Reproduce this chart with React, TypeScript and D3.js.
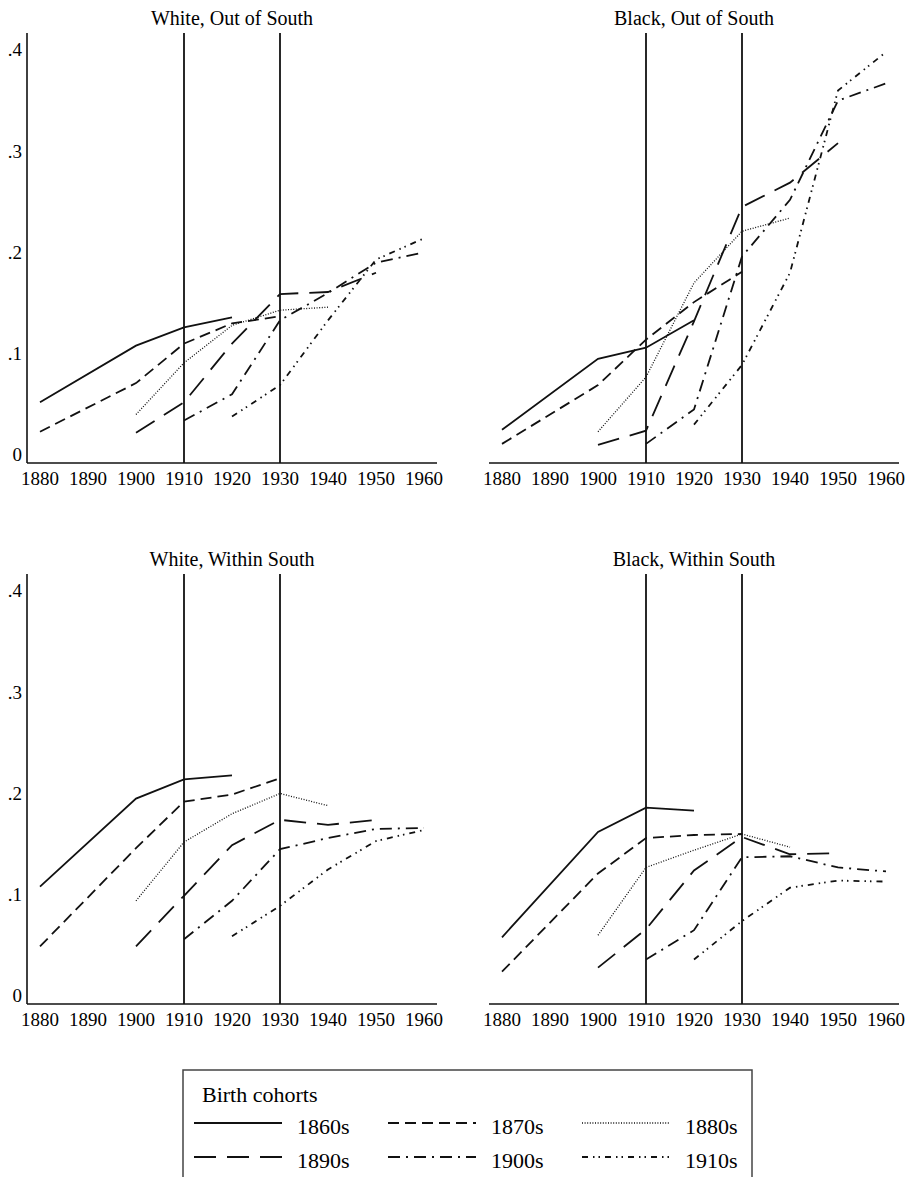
import * as d3 from "d3";

// Census years on the x axis (1890 has no observations)
const years = [1880, 1900, 1910, 1920, 1930, 1940, 1950, 1960];
const xTickYears = [1880, 1890, 1900, 1910, 1920, 1930, 1940, 1950, 1960];
const yTicks = [0, 0.1, 0.2, 0.3, 0.4];
const yTickLabels = ["0", ".1", ".2", ".3", ".4"];
const markerYears = [1910, 1930];

const cohorts = ["1860s", "1870s", "1880s", "1890s", "1900s", "1910s"];
const cohortDashes = ["", "11 6", "1 1.6", "22 11", "12 6 2 6", "6 5 1.5 4 1.5 5"];

type Series = (number | null)[];

// White, Out of South
const whiteOut: Series[] = [
  [0.052, 0.108, 0.126, 0.136, null, null, null, null],
  [0.023, 0.071, 0.11, 0.13, 0.137, null, null, null],
  [null, 0.04, 0.091, 0.128, 0.143, 0.146, null, null],
  [null, 0.022, 0.052, 0.11, 0.159, 0.161, 0.18, null],
  [null, null, 0.034, 0.06, 0.133, 0.16, 0.19, 0.2],
  [null, null, null, 0.038, 0.069, 0.133, 0.193, 0.214],
];

// Black, Out of South
const blackOut: Series[] = [
  [0.025, 0.095, 0.106, 0.133, null, null, null, null],
  [0.011, 0.069, 0.114, 0.151, 0.181, null, null, null],
  [null, 0.023, 0.077, 0.17, 0.221, 0.234, null, null],
  [null, 0.01, 0.024, 0.132, 0.245, 0.269, 0.308, null],
  [null, null, 0.011, 0.045, 0.196, 0.252, 0.35, 0.367],
  [null, null, null, 0.03, 0.089, 0.18, 0.36, 0.398],
];

// White, Within South
const whiteWithin: Series[] = [
  [0.108, 0.195, 0.214, 0.218, null, null, null, null],
  [0.049, 0.146, 0.192, 0.199, 0.215, null, null, null],
  [null, 0.094, 0.152, 0.18, 0.2, 0.188, null, null],
  [null, 0.049, 0.099, 0.149, 0.174, 0.169, 0.174, null],
  [null, null, 0.056, 0.094, 0.145, 0.156, 0.165, 0.166],
  [null, null, null, 0.059, 0.089, 0.125, 0.153, 0.164],
];

// Black, Within South
const blackWithin: Series[] = [
  [0.058, 0.162, 0.186, 0.183, null, null, null, null],
  [0.024, 0.121, 0.156, 0.159, 0.16, null, null, null],
  [null, 0.06, 0.127, 0.144, 0.16, 0.147, null, null],
  [null, 0.028, 0.066, 0.124, 0.157, 0.14, 0.141, null],
  [null, null, 0.036, 0.065, 0.137, 0.138, 0.127, 0.123],
  [null, null, null, 0.036, 0.074, 0.107, 0.114, 0.113],
];

const FONT = "'Liberation Serif', 'Times New Roman', serif";

interface PanelProps {
  title: string;
  series: Series[];
  left: number; // x of 1880
  zeroY: number; // y of value 0
  showYAxis: boolean;
}

function Panel({ title, series, left, zeroY, showYAxis }: PanelProps) {
  const x = d3.scaleLinear().domain([1880, 1960]).range([left, left + 384]);
  const y = d3.scaleLinear().domain([0, 0.4]).range([zeroY, zeroY - 405]);
  const axisY = zeroY + 8;
  const topY = zeroY - 422;
  const axisX0 = x(1880) - 13;
  const axisX1 = x(1960) + 13;

  const line = d3
    .line<{ year: number; v: number }>()
    .x((d) => x(d.year))
    .y((d) => y(d.v));

  return (
    <g>
      <text
        x={(axisX0 + axisX1) / 2}
        y={zeroY - 430}
        textAnchor="middle"
        fontSize={20}
        fontFamily={FONT}
      >
        {title}
      </text>

      {/* axes */}
      <line x1={axisX0} x2={axisX1} y1={axisY} y2={axisY} stroke="#111" strokeWidth={1.6} />
      {showYAxis && (
        <line x1={axisX0} x2={axisX0} y1={topY} y2={axisY} stroke="#111" strokeWidth={1.6} />
      )}
      {showYAxis &&
        yTicks.map((t, i) => (
          <text
            key={t}
            x={22}
            y={y(t)}
            dy="0.34em"
            textAnchor="end"
            fontSize={19}
            fontFamily={FONT}
          >
            {yTickLabels[i]}
          </text>
        ))}
      {xTickYears.map((t) => (
        <text
          key={t}
          x={x(t)}
          y={axisY + 22}
          textAnchor="middle"
          fontSize={19}
          fontFamily={FONT}
        >
          {t}
        </text>
      ))}

      {/* reference lines */}
      {markerYears.map((yr) => (
        <line
          key={yr}
          x1={x(yr)}
          x2={x(yr)}
          y1={topY}
          y2={axisY}
          stroke="#111"
          strokeWidth={1.8}
        />
      ))}

      {/* cohort lines */}
      {series.map((vals, i) => {
        const pts = vals
          .map((v, j) => ({ year: years[j], v }))
          .filter((d): d is { year: number; v: number } => d.v !== null);
        return (
          <path
            key={cohorts[i]}
            d={line(pts) || ""}
            fill="none"
            stroke="#111"
            strokeWidth={i === 2 ? 1.3 : 1.8}
            strokeDasharray={cohortDashes[i] || undefined}
          />
        );
      })}
    </g>
  );
}

function Legend() {
  const boxX = 183;
  const boxY = 1070;
  const boxW = 569;
  const colStep = 194;
  const rowY = [1123, 1157];
  return (
    <g>
      <rect
        x={boxX}
        y={boxY}
        width={boxW}
        height={140}
        fill="none"
        stroke="#444"
        strokeWidth={1.5}
      />
      <text x={202} y={1102} fontSize={22} fontFamily={FONT}>
        Birth cohorts
      </text>
      {cohorts.map((c, i) => {
        const col = i % 3;
        const row = Math.floor(i / 3);
        const sx = 194 + col * colStep;
        const sy = rowY[row];
        return (
          <g key={c}>
            <line
              x1={sx}
              x2={sx + 88}
              y1={sy}
              y2={sy}
              stroke="#111"
              strokeWidth={i === 2 ? 1.3 : 1.8}
              strokeDasharray={cohortDashes[i] || undefined}
            />
            <text x={sx + 103} y={sy + 11} fontSize={22} fontFamily={FONT}>
              {c}
            </text>
          </g>
        );
      })}
    </g>
  );
}

export default function App() {
  return (
    <svg
      width={910}
      height={1177}
      style={{ position: "absolute", left: 0, top: 0, background: "#fff" }}
    >
      <rect width={910} height={1177} fill="#fff" />
      <Panel title="White, Out of South" series={whiteOut} left={40} zeroY={455} showYAxis />
      <Panel title="Black, Out of South" series={blackOut} left={502} zeroY={455} showYAxis={false} />
      <Panel title="White, Within South" series={whiteWithin} left={40} zeroY={996} showYAxis />
      <Panel title="Black, Within South" series={blackWithin} left={502} zeroY={996} showYAxis={false} />
      <Legend />
    </svg>
  );
}
